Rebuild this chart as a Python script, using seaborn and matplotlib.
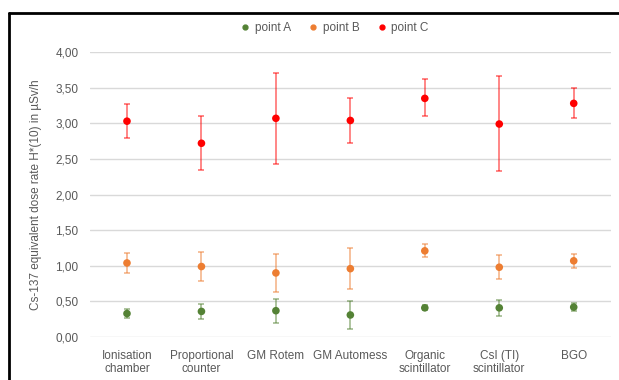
import pandas as pd
import matplotlib.pyplot as plt
import seaborn as sns
from matplotlib.lines import Line2D
from matplotlib.ticker import FuncFormatter

# detectors on the x axis
detectors = ['Ionisation\nchamber', 'Proportional\ncounter', 'GM Rotem', 'GM Automess',
             'Organic\nscintillator', 'CsI (TI)\nscintillator', 'BGO']

# mean dose rate and error range (low / high) per measuring point, in µSv/h
point_a = [0.33, 0.36, 0.37, 0.31, 0.41, 0.41, 0.42]
point_a_low = [0.27, 0.25, 0.20, 0.11, 0.38, 0.30, 0.36]
point_a_high = [0.39, 0.47, 0.54, 0.51, 0.45, 0.52, 0.48]

point_b = [1.04, 0.99, 0.90, 0.96, 1.21, 0.98, 1.07]
point_b_low = [0.90, 0.79, 0.63, 0.67, 1.12, 0.81, 0.97]
point_b_high = [1.18, 1.19, 1.17, 1.25, 1.30, 1.15, 1.17]

point_c = [3.03, 2.72, 3.07, 3.04, 3.35, 2.99, 3.28]
point_c_low = [2.80, 2.35, 2.43, 2.73, 3.10, 2.33, 3.07]
point_c_high = [3.27, 3.10, 3.71, 3.35, 3.62, 3.66, 3.50]

series_names = ['point A', 'point B', 'point C']
colors = ['#548235', '#ED7D31', '#FF0000']

sns.set_style('white')
plt.rcParams['font.family'] = ['Liberation Sans', 'DejaVu Sans']

rows = []
for name, vals, lo, hi in zip(series_names,
                              [point_a, point_b, point_c],
                              [point_a_low, point_b_low, point_c_low],
                              [point_a_high, point_b_high, point_c_high]):
    for d, v, l, h in zip(detectors, vals, lo, hi):
        rows.append({'detector': d, 'series': name, 'value': v, 'low': l, 'high': h})
df = pd.DataFrame(rows)

fig = plt.figure(figsize=(6.19, 3.80), dpi=100)
ax = fig.add_axes([0.145, 0.113, 0.842, 0.750])

# error bars first, lighter than the markers
for name, col in zip(series_names, colors):
    sub = df[df['series'] == name]
    ax.errorbar(sub['detector'], sub['value'],
                yerr=[sub['value'] - sub['low'], sub['high'] - sub['value']],
                fmt='none', ecolor=col, alpha=0.6, elinewidth=1.1, capsize=2, capthick=1.1,
                zorder=2)

sns.scatterplot(data=df, x='detector', y='value', hue='series', palette=colors,
                s=30, edgecolor='none', ax=ax, zorder=3)

ax.set_xlim(-0.5, len(detectors) - 0.5)
ax.set_ylim(0, 4)
ax.set_yticks([i * 0.5 for i in range(9)])
ax.yaxis.set_major_formatter(FuncFormatter(lambda v, p: f'{v:.2f}'.replace('.', ',')))
ax.grid(axis='y', color='#D9D9D9', linewidth=1)
ax.set_axisbelow(True)
for s in ax.spines.values():
    s.set_visible(False)
ax.tick_params(axis='both', length=0, colors='#595959', labelsize=8.5)
ax.tick_params(axis='y', pad=8)
ax.tick_params(axis='x', pad=9)
ax.set_xlabel('')
ax.set_ylabel('Cs-137 equivalent dose rate H*(10) in µSv/h', color='#595959', fontsize=8.5,
              labelpad=10)

handles = [Line2D([], [], marker='o', linestyle='none', color=c, markersize=3.5) for c in colors]
ax.legend(handles, series_names, loc='center', bbox_to_anchor=(0.535, 0.926),
          bbox_transform=fig.transFigure, ncol=3, frameon=False, fontsize=8.5,
          handletextpad=-0.2, columnspacing=0.9, labelcolor='#595959')

# black frame around the chart (cut at right and bottom)
fig.add_artist(Line2D([8.5 / 619, 8.5 / 619], [0, 1 - 13 / 380], color='black', linewidth=2))
fig.add_artist(Line2D([8.5 / 619, 1], [1 - 13 / 380, 1 - 13 / 380], color='black', linewidth=2))

plt.savefig('out.png', dpi=100)
